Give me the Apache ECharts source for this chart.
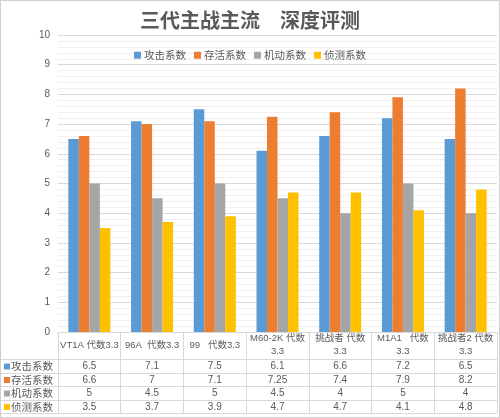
<!DOCTYPE html>
<html>
<head>
<meta charset="utf-8">
<script src="https://cdn.jsdelivr.net/npm/echarts@6/dist/echarts.min.js"></script>
<style>
html,body{margin:0;padding:0;background:#fff;}
#wrap{position:relative;width:500px;height:418px;}
#c{width:500px;height:418px;}
#frame{position:absolute;left:0;top:0;width:500px;height:418px;box-sizing:border-box;border:1px solid #d0d0d0;pointer-events:none;}
</style>
</head>
<body>
<div id="wrap"><div id="c"></div><div id="frame"></div></div>
<script>
const categories = ['VT1A 代数3.3', '96A  代数3.3', '99   代数3.3', 'M60-2K 代数\n3.3', '挑战者 代数\n3.3', 'M1A1   代数\n3.3', '挑战者2 代数\n3.3'];
const seriesNames = ['攻击系数', '存活系数', '机动系数', '侦测系数'];
const attack = [6.5, 7.1, 7.5, 6.1, 6.6, 7.2, 6.5];
const survival = [6.6, 7, 7.1, 7.25, 7.4, 7.9, 8.2];
const mobility = [5, 4.5, 5, 4.5, 4, 5, 4];
const detection = [3.5, 3.7, 3.9, 4.7, 4.7, 4.1, 4.8];
const yTicks = [0, 1, 2, 3, 4, 5, 6, 7, 8, 9, 10];

const colors = ['#5B9BD5', '#ED7D31', '#A5A5A5', '#FFC000'];
const seriesData = [attack, survival, mobility, detection];
const txt = '#595959';
const lineC = '#d9d9d9';
const font = '"Liberation Sans", "Noto Sans CJK SC", sans-serif';
const cjk = '"Noto Sans CJK SC", sans-serif';

const chart = echarts.init(document.getElementById('c'), null, {renderer: 'canvas'});

const axisTop = 332;           // y of category axis line (value 0)
const rowLines = [27, 41, 54, 68, 81]; // offsets of table horizontal lines below axis

const xAxes = [{
  type: 'category',
  data: categories,
  position: 'bottom',
  axisLine: {show: true, lineStyle: {color: lineC}},
  axisTick: {show: true, alignWithLabel: false, interval: 0, length: rowLines[4], lineStyle: {color: lineC}},
  axisLabel: {interval: 0, color: txt, fontSize: 9.5, fontFamily: font, margin: 13, verticalAlign: 'middle', lineHeight: 13}
}];
seriesData.forEach((vals, k) => {
  xAxes.push({
    type: 'category',
    data: categories,
    position: 'bottom',
    offset: rowLines[k],
    axisLine: {show: true, lineStyle: {color: lineC}},
    axisTick: {show: false},
    axisLabel: {interval: 0, color: txt, fontSize: 10, fontFamily: font, margin: 7, verticalAlign: 'middle',
      formatter: (v, i) => String(vals[i])}
  });
});
xAxes.push({
  type: 'category', data: categories, position: 'bottom', offset: rowLines[4],
  axisLine: {show: true, lineStyle: {color: lineC}}, axisTick: {show: false}, axisLabel: {show: false}
});

const graphics = [];
rowLines.forEach((o) => {
  graphics.push({type: 'line', shape: {x1: 1, y1: axisTop + o + 0.5, x2: 58, y2: axisTop + o + 0.5}, style: {stroke: lineC, lineWidth: 1}, silent: true});
});
seriesNames.forEach((n, k) => {
  const cy = axisTop + (rowLines[k] + rowLines[k + 1]) / 2 + 0.5;
  graphics.push({type: 'rect', shape: {x: 4, y: cy - 3, width: 6, height: 6}, style: {fill: colors[k]}, silent: true});
  graphics.push({type: 'text', x: 11, y: cy, style: {text: n, fill: txt, fontSize: 10.5, fontFamily: cjk, verticalAlign: 'middle', align: 'left'}, silent: true});
});

chart.setOption({
  animation: false,
  backgroundColor: '#fff',
  color: colors,
  title: {
    text: '三代主战主流　深度评测',
    left: 'center', top: 5,
    textStyle: {fontSize: 20, fontWeight: 'bold', color: txt, fontFamily: cjk}
  },
  legend: {
    data: seriesNames,
    top: 45, left: 'center',
    icon: 'rect', itemWidth: 7, itemHeight: 7, itemGap: 8,
    textStyle: {color: txt, fontSize: 10.5, fontFamily: cjk, padding: [0, 0, 0, -2]}
  },
  grid: {left: 58, right: 3, top: 35, bottom: 418 - axisTop, containLabel: false},
  xAxis: xAxes,
  yAxis: {
    type: 'value', min: yTicks[0], max: yTicks[yTicks.length - 1], interval: 1,
    axisLine: {show: false}, axisTick: {show: false},
    axisLabel: {color: txt, fontSize: 10, fontFamily: font, margin: 8},
    splitLine: {lineStyle: {color: lineC}},
    minorSplitLine: {show: true, lineStyle: {color: '#f0f0f0'}},
    minorTick: {show: false, splitNumber: 5}
  },
  series: seriesNames.map((n, k) => ({
    name: n, type: 'bar', data: seriesData[k], xAxisIndex: 0,
    barGap: '0%', barCategoryGap: '33%',
    itemStyle: {color: colors[k]}
  })),
  graphic: graphics
});
</script>
</body>
</html>
